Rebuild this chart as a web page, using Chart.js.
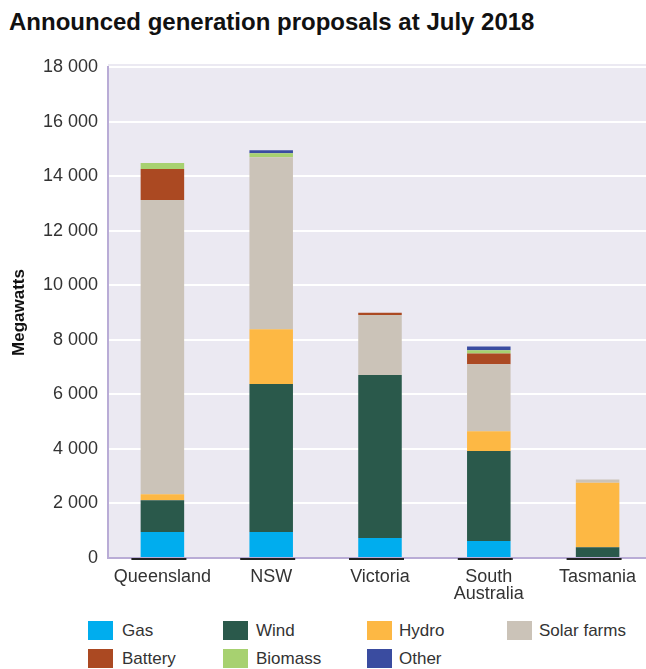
<!DOCTYPE html>
<html>
<head>
<meta charset="utf-8">
<script src="https://cdn.jsdelivr.net/npm/chart.js@4"></script>
<style>
  html, body { margin: 0; padding: 0; background: #fff; overflow: hidden; width: 646px; height: 669px; }
  body { position: relative; font-family: 'Liberation Sans', Arial, sans-serif; }
  #title { position: absolute; left: 9px; top: 8px; font-size: 24px; font-weight: bold; color: #111; white-space: nowrap; }
  #wrap { position: absolute; left: 0; top: 40px; width: 652px; height: 565px; }
  .leg { position: absolute; font-size: 17px; color: #333; line-height: 20px; white-space: nowrap; }
  .leg span { position: absolute; left: 0; top: 0; width: 25px; height: 19px; }
  .leg b { font-weight: normal; position: absolute; top: 0; }
</style>
</head>
<body>
<div id="title">Announced generation proposals at July 2018</div>
<div id="wrap"><canvas id="genChart" width="652" height="565"></canvas></div>
<div id="legend"></div>
<script>
const states = ['Queensland', 'NSW', 'Victoria', ['South', 'Australia'], 'Tasmania'];

const gas     = [950,   950,  730,  620,    0];
const wind    = [1170, 5430, 5980, 3300,  390];
const hydro   = [220,  2010,    0,  730, 2370];
const solar   = [10780, 6300, 2200, 2450,  120];
const battery = [1140,    0,   85,  400,    0];
const biomass = [220,   150,    0,  120,    0];
const other   = [0,     110,    0,  130,    0];

const yTicks = [0, 2000, 4000, 6000, 8000, 10000, 12000, 14000, 16000, 18000];

const series = [
  { label: 'Gas', data: gas, color: '#00adee' },
  { label: 'Wind', data: wind, color: '#2a594b' },
  { label: 'Hydro', data: hydro, color: '#fdb844' },
  { label: 'Solar farms', data: solar, color: '#cbc3b8' },
  { label: 'Battery', data: battery, color: '#ab4922' },
  { label: 'Biomass', data: biomass, color: '#a7d170' },
  { label: 'Other', data: other, color: '#3a4ca0' }
];

// legend laid out in fixed columns like the original
const legendPos = [
  [88, 621], [223, 621], [367, 621], [507, 621],
  [88, 649], [223, 649], [367, 649]
];
const textOffset = [34, 33, 32, 32, 34, 33, 32];
const legendEl = document.getElementById('legend');
series.forEach(function (s, i) {
  const d = document.createElement('div');
  d.className = 'leg';
  d.style.left = legendPos[i][0] + 'px';
  d.style.top = legendPos[i][1] + 'px';
  d.innerHTML = '<span style="background:' + s.color + '"></span><b style="left:' + textOffset[i] + 'px">' + s.label + '</b>';
  legendEl.appendChild(d);
});

const plotBg = {
  id: 'plotBg',
  beforeDraw: function (chart) {
    const a = chart.chartArea;
    const ctx = chart.ctx;
    ctx.save();
    ctx.fillStyle = '#ebe9f2';
    ctx.fillRect(a.left, a.top - 3, a.right - a.left, a.bottom - a.top + 3);
    ctx.restore();
  }
};

// short dark marks under each bar at the baseline
const baseMarks = {
  id: 'baseMarks',
  afterDraw: function (chart) {
    const x = chart.scales.x;
    const y = chart.scales.y.getPixelForValue(0);
    const ctx = chart.ctx;
    ctx.save();
    ctx.strokeStyle = '#222';
    ctx.lineWidth = 2;
    states.forEach(function (_, i) {
      const cx = x.getPixelForValue(i);
      ctx.beginPath();
      ctx.moveTo(cx - 31, y + 1);
      ctx.lineTo(cx + 24, y + 1);
      ctx.stroke();
    });
    ctx.restore();
  }
};

new Chart(document.getElementById('genChart').getContext('2d'), {
  type: 'bar',
  data: {
    labels: states,
    datasets: series.map(function (s) {
      return {
        label: s.label,
        data: s.data,
        backgroundColor: s.color,
        borderWidth: 0,
        barPercentage: 0.4,
        categoryPercentage: 1.0
      };
    })
  },
  options: {
    responsive: false,
    animation: false,
    devicePixelRatio: 1,
    layout: { padding: { top: 27, right: 0, left: 9, bottom: 0 } },
    plugins: {
      legend: { display: false },
      tooltip: { enabled: false }
    },
    scales: {
      x: {
        stacked: true,
        afterFit: function (axis) { axis.height = 47; },
        grid: { display: false, drawTicks: false },
        border: { color: '#b9acd6', width: 2 },
        ticks: {
          color: '#333',
          padding: 11,
          autoSkip: false,
          maxRotation: 0,
          minRotation: 0,
          font: { family: "'Liberation Sans', Arial, sans-serif", size: 18, lineHeight: 0.92 }
        }
      },
      y: {
        stacked: true,
        min: 0,
        max: 18000,
        afterFit: function (axis) { axis.width = 99; },
        afterBuildTicks: function (axis) {
          axis.ticks = yTicks.map(function (v) { return { value: v }; });
        },
        grid: { color: '#ffffff', lineWidth: 2, drawTicks: false },
        border: { color: '#b9acd6', width: 2 },
        title: {
          display: true,
          text: 'Megawatts',
          color: '#111',
          padding: { top: 0, bottom: 8 },
          font: { family: "'Liberation Sans', Arial, sans-serif", size: 17, weight: 'bold' }
        },
        ticks: {
          color: '#333',
          padding: 10,
          font: { family: "'Liberation Sans', Arial, sans-serif", size: 18 },
          callback: function (value) {
            return String(value).replace(/\B(?=(\d{3})+(?!\d))/g, ' ');
          }
        }
      }
    }
  },
  plugins: [plotBg, baseMarks]
});
</script>
</body>
</html>
